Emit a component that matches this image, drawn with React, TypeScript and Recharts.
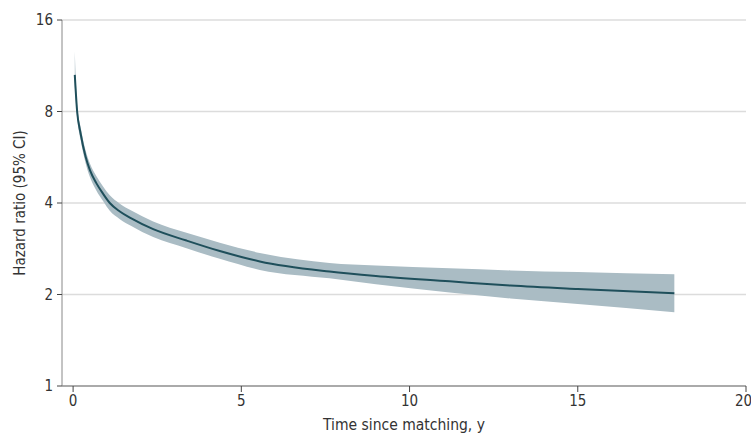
import {
    ComposedChart,
    Area,
    Line,
    XAxis,
    YAxis,
    CartesianGrid,
} from "recharts";

const years = [0.05, 0.12, 0.22, 0.37, 0.5, 0.69, 0.89, 1.09, 1.39, 1.73, 2.38, 3.37, 4.36, 5.55, 7.62, 9, 11.19, 13, 15, 17.87];
const hazardRatio = [10.56, 8.0, 6.8, 5.69, 5.13, 4.65, 4.29, 4.0, 3.75, 3.56, 3.28, 3.01, 2.78, 2.57, 2.38, 2.3, 2.21, 2.14, 2.085, 2.02];
const ciLower = [9.7, 7.62, 6.48, 5.42, 4.87, 4.4, 4.06, 3.77, 3.54, 3.36, 3.09, 2.84, 2.62, 2.41, 2.26, 2.16, 2.03, 1.94, 1.86, 1.75];
const ciUpper = [12.6, 8.4, 7.14, 5.97, 5.4, 4.91, 4.53, 4.24, 3.98, 3.78, 3.48, 3.19, 2.96, 2.74, 2.54, 2.49, 2.44, 2.4, 2.37, 2.33];

const xTicks = [0, 5, 10, 15, 20];
const yTicks = [1, 2, 4, 8, 16];

const data = years.map((t, i) => ({
    t,
    hr: hazardRatio[i],
    ci: [ciLower[i], ciUpper[i]],
}));

const FONT = "'Liberation Sans Narrow', 'DejaVu Sans Condensed', 'Roboto', sans-serif";
const TEXT = "#333";

export default function App() {
    return (
        <div style={{ position: "absolute", left: 0, top: 0, fontFamily: FONT }}>
            <ComposedChart
                width={751}
                height={436}
                data={data}
                margin={{ top: 20, right: 5, bottom: 0, left: 0 }}
            >
                <CartesianGrid horizontal vertical={false} stroke="#dcdcdc" strokeWidth={1.5} />
                <XAxis
                    type="number"
                    dataKey="t"
                    domain={[-0.33, 20]}
                    ticks={xTicks}
                    allowDataOverflow
                    height={50}
                    axisLine={{ stroke: "#aaa", strokeWidth: 2 }}
                    tickLine={{ stroke: "#444" }}
                    tickSize={6}
                    tickMargin={3}
                    tick={{ fill: TEXT, fontSize: 15, fontFamily: FONT }}
                    label={{
                        value: "Time since matching, y",
                        position: "insideBottom",
                        offset: 6,
                        fill: TEXT,
                        fontSize: 15.5,
                        fontFamily: FONT,
                    }}
                />
                <YAxis
                    type="number"
                    scale="log"
                    domain={[1, 16]}
                    ticks={yTicks}
                    allowDataOverflow
                    width={62}
                    axisLine={{ stroke: "#888" }}
                    tickLine={{ stroke: "#444" }}
                    tickSize={5}
                    tickMargin={4}
                    tick={{ fill: TEXT, fontSize: 15, fontFamily: FONT }}
                    label={{
                        value: "Hazard ratio (95% CI)",
                        angle: -90,
                        position: "insideLeft",
                        offset: 20,
                        style: { textAnchor: "middle" },
                        fill: TEXT,
                        fontSize: 15,
                        fontFamily: FONT,
                    }}
                />
                <Area
                    type="monotone"
                    dataKey="ci"
                    fill="#aabcc4"
                    fillOpacity={1}
                    stroke="none"
                    isAnimationActive={false}
                />
                <Line
                    type="monotone"
                    dataKey="hr"
                    stroke="#1f4f5b"
                    strokeWidth={2}
                    dot={false}
                    isAnimationActive={false}
                />
            </ComposedChart>
        </div>
    );
}
